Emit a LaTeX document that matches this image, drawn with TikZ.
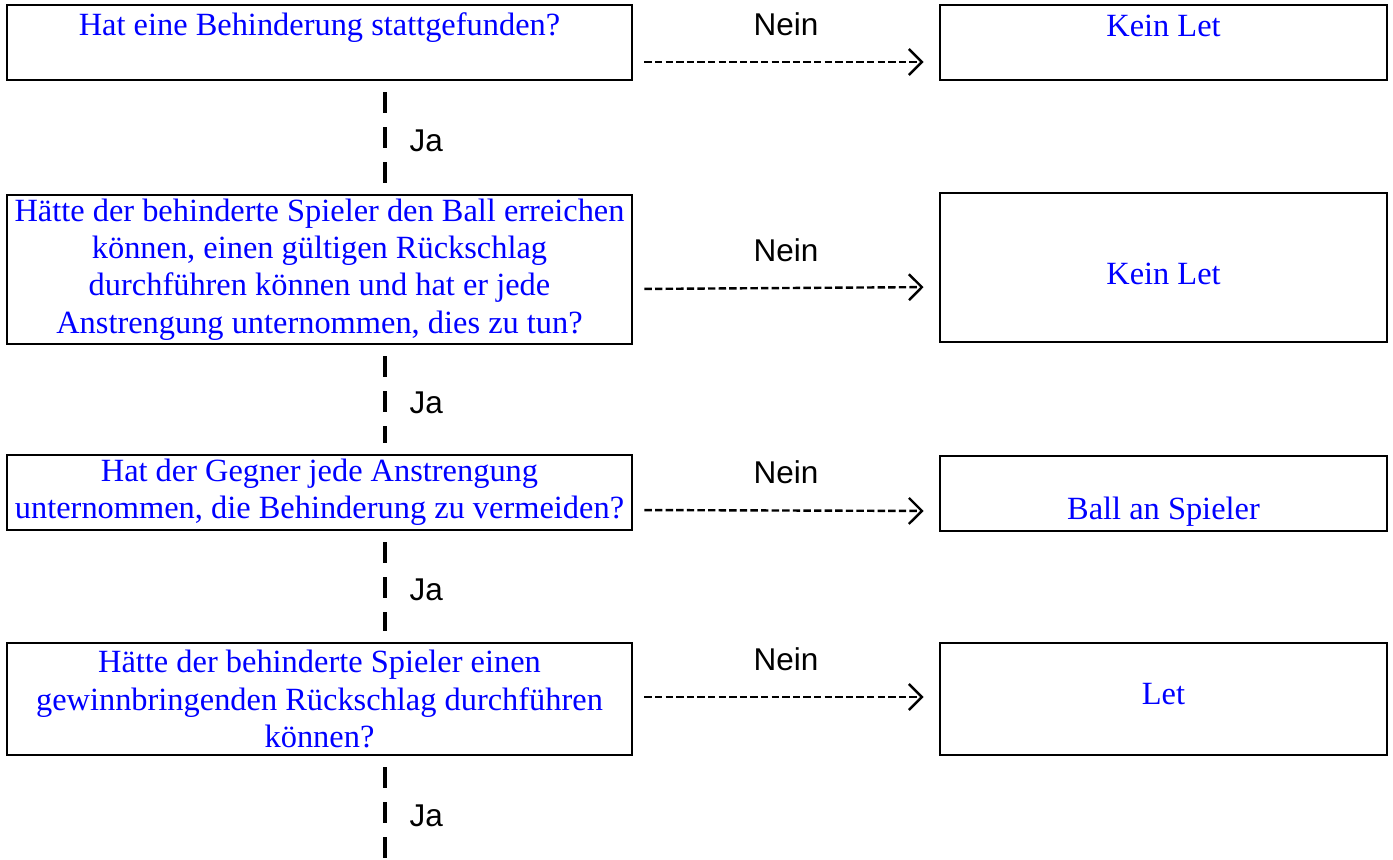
\documentclass[tikz,border=0pt]{standalone}
\usepackage{fontspec}
\setmainfont{Liberation Serif}
\setsansfont{Liberation Sans}
\usetikzlibrary{arrows.meta}
\tikzstyle{frage} = [rectangle, draw=black, line width=1.4pt, minimum width=312.5pt, inner sep=0pt, align=center, text=blue, font=\fontsize{16.2}{18.6}\selectfont]
\tikzstyle{ergebnis} = [rectangle, draw=black, line width=1.4pt, minimum width=223.5pt, inner sep=0pt, text=blue, font=\fontsize{16.2}{18.6}\selectfont]
\tikzstyle{antwort} = [inner sep=0pt, font=\sffamily\fontsize{15.75}{18}\selectfont]
\tikzstyle{nein} = [line width=1.2pt, dash pattern=on 3.7pt off 1.6pt, -{Straight Barb[length=6.5pt,width=13pt,line width=1.2pt]}, shorten <=5.5pt, shorten >=7.5pt]
\tikzstyle{ja} = [line width=1.6pt, dash pattern=on 10.5pt off 7pt, shorten <=5.5pt, shorten >=5.5pt]

\begin{document}
\begin{tikzpicture}[x=0.5pt, y=-0.5pt, node distance=112.5pt]
\useasboundingbox (0,0) rectangle (1393,859);

% Fragen
\node (q1) [frage, minimum height=37.5pt, text height=15pt, text depth=22.5pt] at (319.5,42.5) {Hat eine Behinderung stattgefunden?};
\node (q2) [below of=q1, frage, minimum height=74.5pt, yshift=-1pt] {Hätte der behinderte Spieler den Ball erreichen \\ können, einen gültigen Rückschlag \\ durchführen können und hat er jede \\ Anstrengung unternommen, dies zu tun?};
\node (q3) [below of=q2, frage, minimum height=37.5pt, yshift=1pt] {Hat der Gegner jede Anstrengung \\ unternommen, die Behinderung zu vermeiden?};
\node (q4) [below of=q3, frage, minimum height=56pt, yshift=9.25pt] {Hätte der behinderte Spieler einen \\ gewinnbringenden Rückschlag durchführen \\ können?};
\coordinate (ende) at ([xshift=32.75pt, yshift=-56.5pt]q4.south);

% Entscheidungen
\node (r1) [right of=q1, xshift=309.5pt, ergebnis, minimum height=37.5pt, text height=15.5pt, text depth=22pt] {Kein Let};
\node (r2) [right of=q2, xshift=309.5pt, yshift=1pt, ergebnis, text height=45.5pt, text depth=29pt] {Kein Let};
\node (r3) [right of=q3, xshift=309.5pt, yshift=-0.5pt, ergebnis, text height=31.5pt, text depth=6pt] {Ball an Spieler};
\node (r4) [right of=q4, xshift=309.5pt, ergebnis, text height=30.5pt, text depth=25.5pt] {Let};

% Nein
\draw [nein] ([yshift=-9.75pt]q1.east) -- node[antwort, anchor=base, yshift=13.5pt] {Nein} ([yshift=-9.75pt]r1.west);
\draw [nein] ([yshift=-9.75pt]q2.east) -- node[antwort, anchor=base, yshift=13.5pt] {Nein} ([yshift=-9.75pt]r2.west);
\draw [nein] ([yshift=-8.75pt]q3.east) -- node[antwort, anchor=base, yshift=13.5pt] {Nein} ([yshift=-8.75pt]r3.west);
\draw [nein] ([yshift=1pt]q4.east) -- node[antwort, anchor=base, yshift=13.5pt] {Nein} ([yshift=1pt]r4.west);

% Ja
\draw [ja] ([xshift=32.75pt]q1.south) -- node[antwort, anchor=base west, xshift=11.5pt, yshift=-6.75pt] {Ja} ([xshift=32.75pt]q2.north);
\draw [ja] ([xshift=32.75pt]q2.south) -- node[antwort, anchor=base west, xshift=11.5pt, yshift=-6.75pt] {Ja} ([xshift=32.75pt]q3.north);
\draw [ja] ([xshift=32.75pt]q3.south) -- node[antwort, anchor=base west, xshift=11.5pt, yshift=-6.75pt] {Ja} ([xshift=32.75pt]q4.north);
\draw [ja] ([xshift=32.75pt]q4.south) -- node[antwort, anchor=base west, xshift=11.5pt, yshift=-6.75pt] {Ja} (ende);

\end{tikzpicture}
\end{document}
